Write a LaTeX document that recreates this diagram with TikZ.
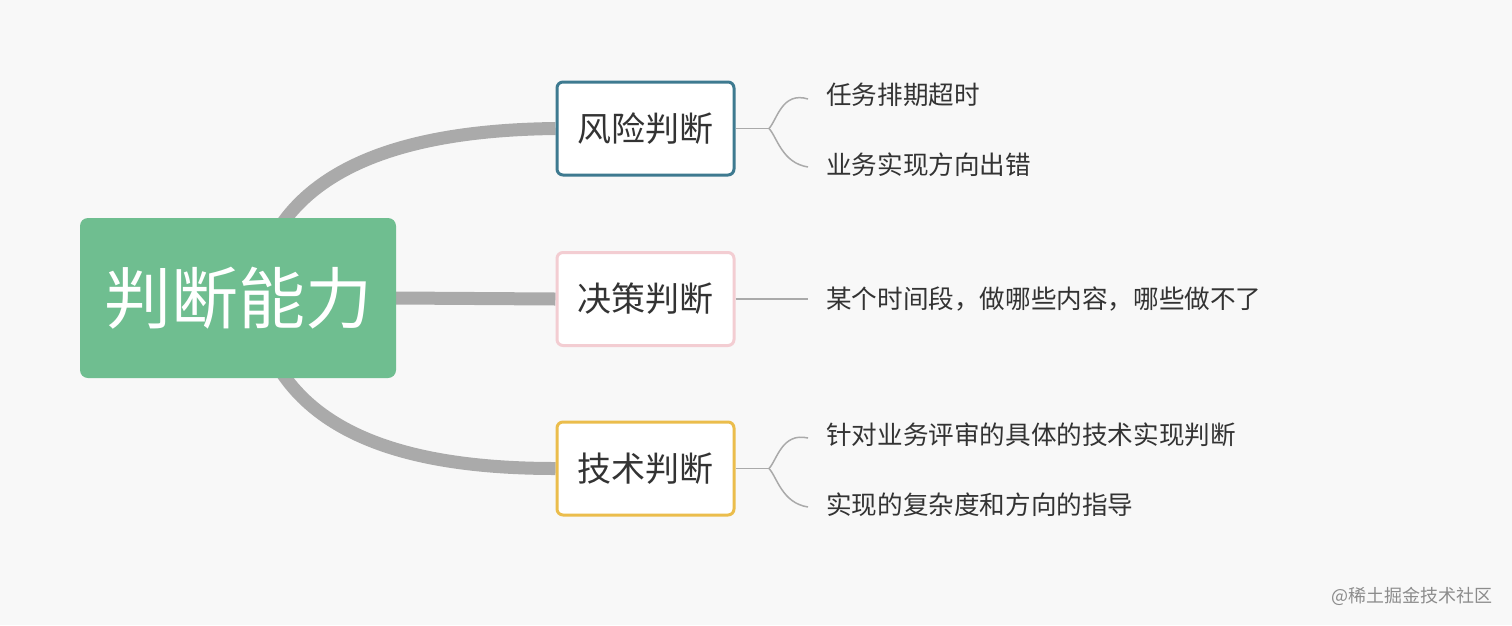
\documentclass[tikz,border=0pt]{standalone}
\usepackage{fontspec}
\setmainfont{Noto Sans CJK SC}
\definecolor{bg}{HTML}{F8F8F8}
\definecolor{rootgreen}{HTML}{6FBE90}
\definecolor{teal}{HTML}{3E7A90}
\definecolor{pinkb}{HTML}{F3CDD2}
\definecolor{yellowb}{HTML}{EBBD4C}
\definecolor{thick}{HTML}{AAAAAA}
\definecolor{thin}{HTML}{AAAAAA}
\definecolor{txt}{HTML}{333333}
\pgfdeclarelayer{bglayer}
\pgfsetlayers{bglayer,main}
\tikzset{
  rootbox/.style={fill=rootgreen, rounded corners=8pt, minimum width=316pt, minimum height=160pt, text=white, font=\fontsize{67}{74}\selectfont, inner sep=0pt},
  branchbox/.style={fill=white, draw=#1, line width=3pt, rounded corners=6pt, minimum width=177pt, minimum height=93pt, text=txt, font=\fontsize{34}{40}\selectfont, inner sep=0pt},
  leaf/.style={anchor=west, inner sep=0pt, text=txt, font=\fontsize{25.6}{30}\selectfont},
  thickline/.style={draw=thick, line width=13pt},
  thinline/.style={draw=thin, line width=1.5pt},
}
\begin{document}
\begin{tikzpicture}[x=1pt,y=-1pt]
\useasboundingbox (0,0) rectangle (1512,625);

\node[rootbox] (root) at (238,298) {判断能力};
\node[branchbox=teal] (r) at (645.5,128.5) {风险判断};
\node[branchbox=pinkb] (d) at (645.5,299) {决策判断};
\node[branchbox=yellowb] (t) at (645.5,468.5) {技术判断};

\coordinate (rs) at (272,240);
\coordinate (ts) at (272,356);
\begin{pgfonlayer}{bglayer}
\fill[bg] (0,0) rectangle (1512,625);
\draw[thickline] (rs) .. controls (315,160) and (420,130) .. (r.west);
\draw[thickline] (ts) .. controls (315,440) and (420,468.5) .. (t.west);
\draw[thickline] (root.east) -- (d.west);
\end{pgfonlayer}

\node[leaf] (l1) at (826,95) {任务排期超时};
\node[leaf] (l2) at (826,165) {业务实现方向出错};
\node[leaf] (l3) at (826,299) {某个时间段，做哪些内容，哪些做不了};
\node[leaf] (l4) at (826,435) {针对业务评审的具体的技术实现判断};
\node[leaf] (l5) at (826,505) {实现的复杂度和方向的指导};

\coordinate (rb) at (769,128.5);
\coordinate (tb) at (769,468.5);
\draw[thinline] (r.east) -- (rb);
\draw[thinline] (rb) .. controls (777,120) and (782,91) .. ([xshift=-18pt,yshift=-4pt]l1.west);
\draw[thinline] (rb) .. controls (777,137) and (782,163) .. ([xshift=-18pt,yshift=-2pt]l2.west);
\draw[thinline] (d.east) -- ([xshift=-18pt]l3.west);
\draw[thinline] (t.east) -- (tb);
\draw[thinline] (tb) .. controls (777,460) and (782,432) .. ([xshift=-18pt,yshift=-3pt]l4.west);
\draw[thinline] (tb) .. controls (777,477) and (782,503) .. ([xshift=-18pt,yshift=-2pt]l5.west);

\node[anchor=east, inner sep=0pt, text=black!45, font=\fontsize{18}{21}\selectfont] (wm) at (1493,596) {@稀土掘金技术社区};
\end{tikzpicture}
\end{document}
